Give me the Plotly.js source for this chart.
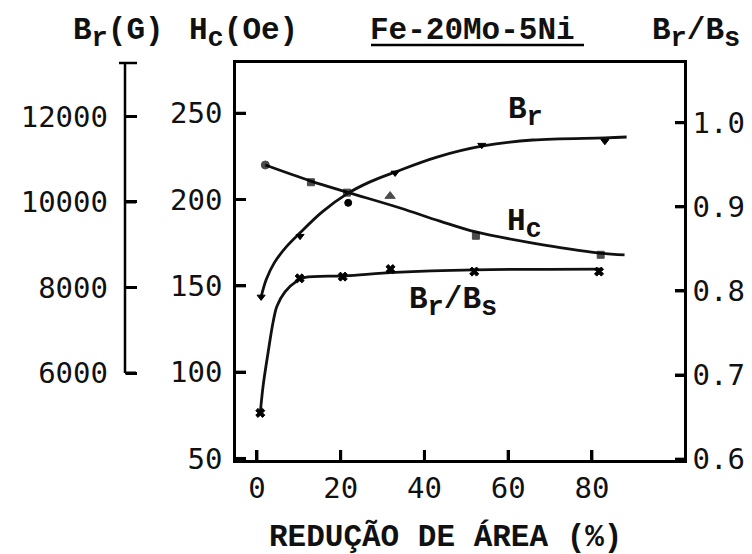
<!DOCTYPE html>
<html>
<head>
<meta charset="utf-8">
<script src="https://cdn.plot.ly/plotly-3.0.1.min.js"></script>
<style>
  html, body { margin: 0; padding: 0; background: #fff; }
  #chart { width: 752px; height: 554px; }
</style>
</head>
<body>
<div id="chart"></div>
<script>
// Fe-20Mo-5Ni: remanence, coercivity and squareness vs. area reduction

// measured points
const brX   = [1.0, 10.3, 21.8, 33.0, 53.7, 83.1];
const brVal = [7780, 9200, 9980, 10680, 11330, 11420];      // Br (G)
const hcX   = [2.0, 12.9, 21.5, 31.8, 52.3, 82.1];
const hcVal = [220, 210, 204, 202, 179, 168];              // Hc (Oe)
const rsX   = [0.8, 10.2, 20.5, 31.9, 51.9, 81.7];
const rsVal = [0.655, 0.815, 0.817, 0.826, 0.823, 0.823];  // Br/Bs

// hand-drawn trend curves
const brCurveX   = [1.0, 2.2, 4.1, 7.0, 10.3, 15.6, 21.5, 27.0, 33.0, 43.0, 54.0, 65.9, 83.1, 88.3];
const brCurveVal = [7780, 8180, 8570, 8950, 9280, 9770, 10190, 10470, 10700, 11050, 11310, 11450, 11500, 11520];
const hcCurveX   = [2.0, 12.9, 21.5, 34.2, 43.7, 52.3, 65.9, 81.9, 87.8];
const hcCurveVal = [220, 210.7, 204.3, 195.1, 187.5, 181.2, 174.8, 169.0, 167.9];
const rsCurveX   = [0.8, 1.5, 2.7, 3.9, 4.8, 6.7, 9.6, 11.5, 21.0, 33.0, 52.0, 82.0];
const rsCurveVal = [0.655, 0.688, 0.728, 0.764, 0.782, 0.799, 0.812, 0.816, 0.818, 0.822, 0.825, 0.826];

// axis ticks
const xTicks  = [0, 20, 40, 60, 80];
const hcTicks = [50, 100, 150, 200, 250];
const brTicks = [6000, 8000, 10000, 12000];
const brTickText = ['6000', '8000', '10000', '12000'];
const rsTicks = [0.6, 0.7, 0.8, 0.9, 1.0];
const rsTickText = ['0.6', '0.7', '0.8', '0.9', '1.0'];

// pixel -> paper helpers (plot area spans 115..684 x, 63..460 y)
const ML = 115, MR = 68, MT = 63, MB = 94, W = 752, H = 554;
const PX = v => (v - ML) / (W - ML - MR);
const PY = v => (H - MB - v) / (H - MT - MB);

const INK = '#000';
const mono = { family: 'Liberation Mono, Courier New, monospace', size: 31, color: '#111', weight: 'bold' };
const tickFont = { family: 'DejaVu Sans Mono, monospace', size: 29, color: '#111' };
const sub = s => '<sub><span style="font-size:27px">' + s + '</span></sub>';

const lineStyle = { color: '#111', width: 2.8, shape: 'spline', smoothing: 1 };
const markerEdge = { color: INK, width: 1 };

const BR_RANGE = [3965, 13251];

const traces = [
  { x: brCurveX, y: brCurveVal, yaxis: 'y3', mode: 'lines', line: lineStyle, hoverinfo: 'skip' },
  { x: hcCurveX, y: hcCurveVal, yaxis: 'y',  mode: 'lines', line: lineStyle, hoverinfo: 'skip' },
  { x: rsCurveX, y: rsCurveVal, yaxis: 'y2', mode: 'lines', line: lineStyle, hoverinfo: 'skip' },
  { x: brX, y: brVal, yaxis: 'y3', mode: 'markers',
    marker: { symbol: ['triangle-down', 'triangle-down', 'circle', 'triangle-down', 'triangle-down', 'triangle-down'],
              size: 7, color: INK, line: markerEdge } },
  { x: hcX, y: hcVal, yaxis: 'y', mode: 'markers',
    marker: { symbol: ['circle', 'square', 'square', 'triangle-up', 'square', 'square'],
              size: [8, 7, 7, 9, 7, 7], color: INK, line: markerEdge } },
  { x: rsX, y: rsVal, yaxis: 'y2', mode: 'markers',
    marker: { symbol: 'x', size: 8, color: INK, line: markerEdge } }
];

const axisCommon = {
  showgrid: false, zeroline: false, showline: true, linecolor: INK, linewidth: 2.5,
  tickmode: 'array', ticks: 'inside', tickcolor: INK, tickwidth: 3, ticklen: 10,
  tickfont: tickFont, automargin: false
};

// short inward tick marks, placed through each axis' own scale
const tickLine = { color: INK, width: 3 };
const tickShapes = [].concat(
  xTicks.map(v => ({ type: 'line', xref: 'x', yref: 'paper', x0: v, x1: v, y0: 0, y1: 10 / 397, line: tickLine })),
  hcTicks.map(v => ({ type: 'line', xref: 'paper', yref: 'y', x0: PX(236), x1: PX(246), y0: v, y1: v, line: tickLine })),
  rsTicks.map(v => ({ type: 'line', xref: 'paper', yref: 'y2', x0: 1, x1: PX(675), y0: v, y1: v, line: tickLine })),
  brTicks.map(v => ({ type: 'line', xref: 'paper', yref: 'y3', x0: PX(125), x1: PX(136), y0: v, y1: v, line: tickLine }))
);

const layout = {
  width: W, height: H,
  margin: { l: ML, r: MR, t: MT, b: MB, pad: 0 },
  paper_bgcolor: '#fff', plot_bgcolor: 'rgba(0,0,0,0)',
  showlegend: false,
  xaxis: Object.assign({}, axisCommon, {
    domain: [PX(236), 1], range: [-5, 102], tickvals: xTicks,
    mirror: true, anchor: 'y'
  }),
  yaxis: Object.assign({}, axisCommon, {
    range: [49.1, 279.1], tickvals: hcTicks, anchor: 'x', ticklabelstandoff: 5
  }),
  yaxis2: Object.assign({}, axisCommon, {
    overlaying: 'y', side: 'right', anchor: 'x', range: [0.599, 1.071],
    tickvals: rsTicks, ticktext: rsTickText, ticklen: 9
  }),
  yaxis3: Object.assign({}, axisCommon, {
    overlaying: 'y', anchor: 'free', position: PX(125), side: 'left', showline: false, ticklen: 11,
    range: BR_RANGE, tickvals: brTicks, ticktext: brTickText, ticklabelstandoff: 17
  }),
  shapes: tickShapes.concat([
    // Br scale spine, from 6000 G up to the top of the frame
    { type: 'line', xref: 'paper', yref: 'y3', x0: PX(125), x1: PX(125), y0: 6000, y1: BR_RANGE[1],
      line: { color: INK, width: 2.5 } },
    // cap at the top of the Br scale
    { type: 'line', xref: 'paper', yref: 'paper', x0: PX(119), x1: PX(137), y0: 1, y1: 1,
      line: { color: INK, width: 2.5 } },
    // underline of the alloy name
    { type: 'line', xref: 'paper', yref: 'paper', x0: PX(371), x1: PX(584), y0: PY(45), y1: PY(45),
      line: { color: INK, width: 2.5 } }
  ]),
  annotations: [
    { text: 'B' + sub('r') + '(G)', x: PX(72), y: PY(34), xanchor: 'left', yanchor: 'middle' },
    { text: 'H' + sub('c') + '(Oe)', x: PX(188), y: PY(34), xanchor: 'left', yanchor: 'middle' },
    { text: 'Fe-20Mo-5Ni', x: PX(369), y: PY(31), xanchor: 'left', yanchor: 'middle' },
    { text: 'B' + sub('r') + '/B' + sub('s'), x: PX(651), y: PY(34), xanchor: 'left', yanchor: 'middle' },
    { text: 'B' + sub('r'), x: PX(507), y: PY(113), xanchor: 'left', yanchor: 'middle' },
    { text: 'H' + sub('c'), x: PX(506), y: PY(224), xanchor: 'left', yanchor: 'middle' },
    { text: 'B' + sub('r') + '/B' + sub('s'), x: PX(408), y: PY(302), xanchor: 'left', yanchor: 'middle' },
    { text: 'REDUÇÃO DE ÁREA (%)', x: PX(445), y: PY(537), xanchor: 'center', yanchor: 'middle' }
  ].map(a => Object.assign({ xref: 'paper', yref: 'paper', showarrow: false, font: mono, borderpad: 0 }, a))
};

Plotly.newPlot('chart', traces, layout, { displayModeBar: false });
</script>
</body>
</html>
